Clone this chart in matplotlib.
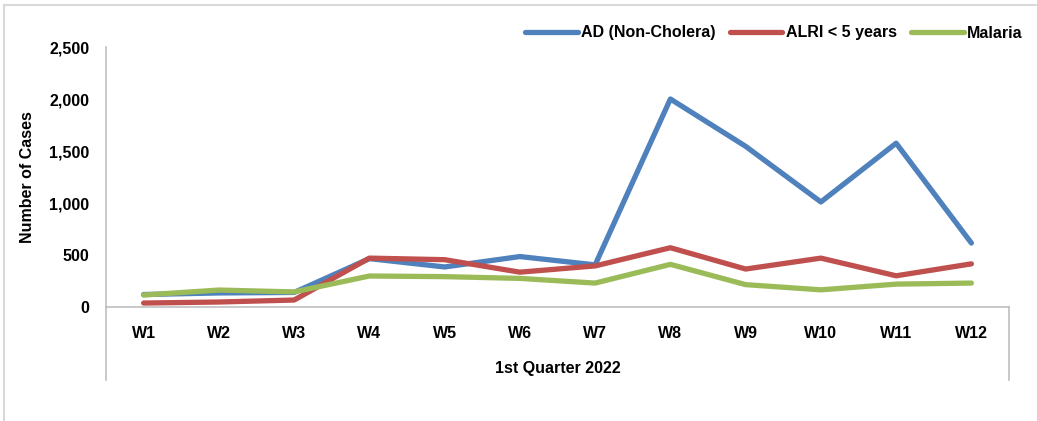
import matplotlib
matplotlib.use("Agg")
import matplotlib.pyplot as plt
import matplotlib.patches as mpatches
from matplotlib.ticker import FuncFormatter

plt.rcParams['font.family'] = ['Liberation Sans', 'DejaVu Sans']

weeks = ["W1", "W2", "W3", "W4", "W5", "W6", "W7", "W8", "W9", "W10", "W11", "W12"]
ad_cases = [120, 135, 140, 465, 385, 485, 405, 2000, 1545, 1010, 1575, 615]
alri_cases = [38, 48, 67, 470, 455, 335, 395, 570, 365, 470, 300, 415]
malaria_cases = [115, 163, 145, 298, 292, 275, 230, 410, 215, 165, 220, 230]

series_names = ["AD (Non-Cholera)", "ALRI < 5 years", "Malaria"]
series_colors = ["#4F81BD", "#C0504D", "#9BBB59"]

fig = plt.figure(figsize=(10.37, 4.21), dpi=100)

# outer chart frame (Excel style)
frame = mpatches.Rectangle((4 / 1037, -0.1), 1.2, (421 - 5) / 421 + 0.1,
                           transform=fig.transFigure, fill=False,
                           edgecolor="#d9d9d9", linewidth=1.5)
fig.patches.append(frame)

ax = fig.add_axes([106 / 1037, 114 / 421, (1009 - 106) / 1037, 260 / 421])

x = list(range(len(weeks)))
for values, name, color in zip([ad_cases, alri_cases, malaria_cases], series_names, series_colors):
    ax.plot(x, values, color=color, linewidth=3.8, label=name,
            solid_capstyle="round", solid_joinstyle="round")

ax.set_xlim(-0.5, len(weeks) - 0.5)
ax.set_ylim(0, 2500)
ax.set_yticks(range(0, 2501, 500))
ax.yaxis.set_major_formatter(FuncFormatter(lambda v, p: f"{int(v):,}"))

for side in ["top", "right"]:
    ax.spines[side].set_visible(False)
for side in ["left", "bottom"]:
    ax.spines[side].set_color("#bfbfbf")
    ax.spines[side].set_linewidth(1.2)

fs = 11.5
ax.tick_params(axis="both", length=0, labelsize=fs)
ax.tick_params(axis="y", pad=12)
ax.tick_params(axis="x", pad=14)
ax.set_xticks(x)
ax.set_xticklabels(weeks)
for lbl in ax.get_xticklabels() + ax.get_yticklabels():
    lbl.set_fontweight("bold")

# multi-level category axis lines
depth = -(380 - 307) / 260
ax.plot([0, 0], [0, depth], transform=ax.transAxes, color="#bfbfbf",
        linewidth=1.2, clip_on=False)
ax.plot([1, 1], [0, depth], transform=ax.transAxes, color="#bfbfbf",
        linewidth=1.2, clip_on=False)

ax.text(0.5, -(368 - 307) / 260, "1st Quarter 2022", transform=ax.transAxes,
        ha="center", va="center", fontsize=fs, fontweight="bold")
ax.set_ylabel("Number of Cases", fontsize=fs, fontweight="bold", labelpad=10)

ax.legend(loc="center right", bbox_to_anchor=(1.015, (307 - 33) / 260), ncol=3,
          frameon=False, borderpad=0, borderaxespad=0,
          prop={"weight": "bold", "size": fs}, handlelength=3.3,
          handletextpad=0.2, columnspacing=0.9)

fig.savefig("out.png", dpi=100)
